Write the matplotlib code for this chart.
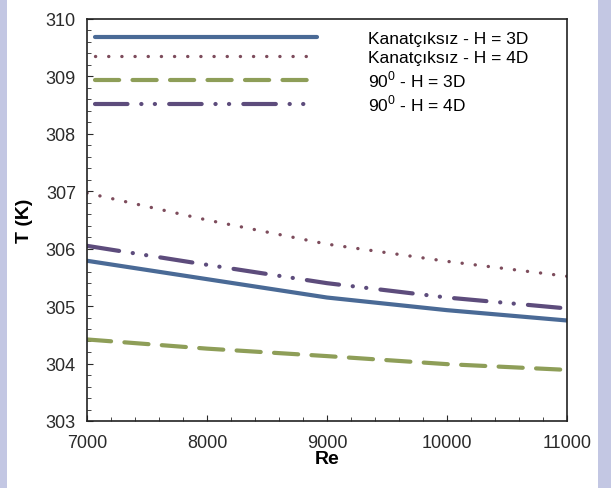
import matplotlib
matplotlib.use("Agg")
import matplotlib.pyplot as plt
from matplotlib.ticker import MultipleLocator
from matplotlib.patches import Rectangle

plt.rcParams['font.family'] = ['Liberation Sans', 'DejaVu Sans']
plt.rcParams['mathtext.fontset'] = 'custom'
plt.rcParams['mathtext.rm'] = 'Liberation Sans'

# values
re = [7000, 8000, 9000, 10000, 11000]
t_plain_3d = [305.79, 305.47, 305.15, 304.93, 304.75]
t_plain_4d = [306.97, 306.50, 306.08, 305.78, 305.52]
t_90_3d = [304.42, 304.26, 304.13, 303.99, 303.89]
t_90_4d = [306.05, 305.72, 305.40, 305.15, 304.96]

labels = ["Kanatçıksız - H = 3D", "Kanatçıksız - H = 4D",
          r"90$^{\mathregular{0}}$ - H = 3D", r"90$^{\mathregular{0}}$ - H = 4D"]

fig = plt.figure(figsize=(6.11, 4.89), dpi=100)
fig.patch.set_facecolor('#c3c7e3')
fig.patches.append(Rectangle((7 / 611, 0.0), 591 / 611, 1.0,
                             transform=fig.transFigure, facecolor='white',
                             edgecolor='none', zorder=-5))

ax = fig.add_axes([87 / 611, 1 - 422 / 489, 480 / 611, 402 / 489])
ax.set_zorder(1)
ax.set_facecolor('white')

ax.plot(re, t_plain_3d, color='#4a6a96', lw=3, solid_capstyle='round', label=labels[0])
ax.plot(re, t_plain_4d, color='#7d4c5c', lw=2.4, linestyle=(0, (0.05, 3.9)),
        dash_capstyle='round', label=labels[1])
ax.plot(re, t_90_3d, color='#8e9e58', lw=3, linestyle=(0, (5.8, 3.2)),
        dash_capstyle='round', label=labels[2])
ax.plot(re, t_90_4d, color='#5d4c7c', lw=3,
        linestyle=(0, (7.8, 3.3, 0.05, 3.2, 0.05, 3.4)),
        dash_capstyle='round', label=labels[3])

ax.set_xlim(7000, 11000)
ax.set_ylim(303, 310)
ax.xaxis.set_major_locator(MultipleLocator(1000))
ax.xaxis.set_minor_locator(MultipleLocator(200))
ax.yaxis.set_major_locator(MultipleLocator(1))
ax.yaxis.set_minor_locator(MultipleLocator(0.2))
ax.tick_params(which='both', direction='in', top=False, right=False, labelsize=13,
               colors='#2a2a2a')
ax.tick_params(which='major', length=4)
ax.tick_params(which='minor', length=3)
ax.tick_params(axis='x', pad=9)
ax.tick_params(axis='y', pad=8)
for s in ax.spines.values():
    s.set_linewidth(1.2)
    s.set_color('#222222')

ax.set_xlabel('Re', fontsize=14, fontweight='bold', labelpad=0)
ax.set_ylabel('T (K)', fontsize=14, fontweight='bold', labelpad=9)

ax.legend(loc='upper left', bbox_to_anchor=(8 / 480, 0.970), frameon=False,
          fontsize=12.5, handlelength=12.8, handletextpad=2.9,
          labelspacing=0.2, borderaxespad=0, borderpad=0)

fig.savefig('out.png', dpi=100, facecolor=fig.get_facecolor())
